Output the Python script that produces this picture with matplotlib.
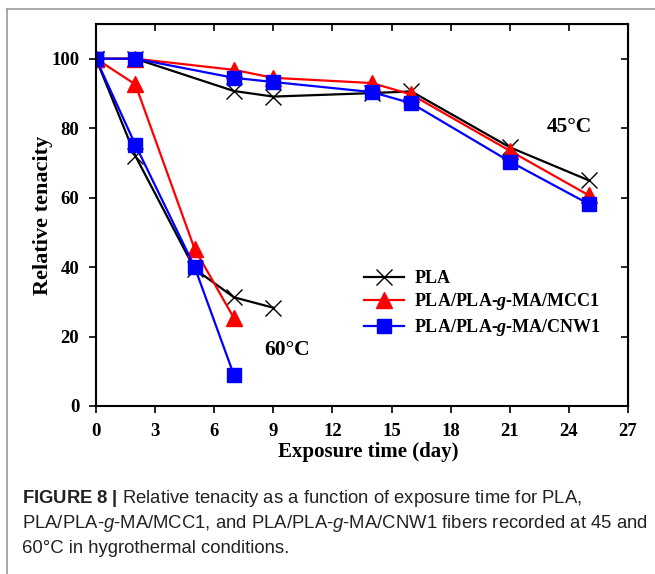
import numpy as np
import matplotlib
matplotlib.use("Agg")
import matplotlib.pyplot as plt
from matplotlib.lines import Line2D

plt.rcParams['font.family'] = ['Liberation Serif', 'DejaVu Serif']
plt.rcParams['font.weight'] = 'bold'
plt.rcParams['mathtext.fontset'] = 'custom'
plt.rcParams['mathtext.it'] = 'Liberation Serif:style=italic:weight=bold'
plt.rcParams['mathtext.sf'] = 'Liberation Sans:style=italic:weight=normal'
plt.rcParams['mathtext.bf'] = 'Liberation Sans:weight=bold'

# 45 degC series
days45 = [0, 2, 7, 9, 14, 16, 21, 25]
pla45 = [100, 100, 90.7, 89.1, 90.1, 90.6, 74.5, 65]
mcc45 = [100, 100, 96.8, 94.5, 93.0, 89.7, 73.5, 60.7]
cnw45 = [100, 100, 94.5, 93.3, 90.4, 87.2, 70.4, 58.2]

# 60 degC series
days60 = [0, 2, 5, 7, 9]
pla60 = [100, 72, 39.5, 31.3, 28.3]
mcc60 = [100, 92.6, 45.3, 25.3]
cnw60 = [100, 75.2, 40.1, 8.9]

labels = ['PLA', 'PLA/PLA-$\\mathit{g}$-MA/MCC1', 'PLA/PLA-$\\mathit{g}$-MA/CNW1']
xticks = np.arange(0, 28, 3)
yticks = np.arange(0, 101, 20)

fig = plt.figure(figsize=(6.55, 5.74), dpi=100)
ax = fig.add_axes([96/655, 1-406/574, (628-96)/655, (406-24)/574])

sty_pla = dict(color='black', marker='x', ms=11, mew=1.0, lw=1.6)
sty_mcc = dict(color='red', marker='^', ms=11.5, lw=1.6)
sty_cnw = dict(color='blue', marker='s', ms=10.5, lw=1.6)

ax.plot(days45, pla45, label=labels[0], **sty_pla)
ax.plot(days45, mcc45, label=labels[1], **sty_mcc)
ax.plot(days45, cnw45, label=labels[2], **sty_cnw)
ax.plot(days60[:len(pla60)], pla60, **sty_pla)
ax.plot(days60[:len(mcc60)], mcc60, **sty_mcc)
ax.plot(days60[:len(cnw60)], cnw60, **sty_cnw)

ax.set_xlim(0, 27)
ax.set_ylim(0, 110)
ax.set_xticks(xticks)
ax.set_yticks(yticks)
ax.tick_params(direction='out', length=5, width=1.2, labelsize=13.5, pad=7)
for s in ax.spines.values():
    s.set_linewidth(1.5)

# inward ticks on top and right
top = ax.secondary_xaxis('top')
top.set_xticks(xticks)
top.tick_params(direction='in', length=5, width=1.2, labeltop=False)
right = ax.secondary_yaxis('right')
right.set_yticks(yticks)
right.tick_params(direction='in', length=5, width=1.2, labelright=False)

ax.set_xlabel('Exposure time (day)', fontsize=15, fontweight='bold')
ax.set_ylabel('Relative tenacity', fontsize=16, fontweight='bold')
ax.xaxis.set_label_coords(0.512, -0.095)
ax.yaxis.set_label_coords(-0.081, 0.5)

ax.text(24.05, 80.2, '45°C', fontsize=15.5, fontweight='bold', ha='center', va='center')
ax.text(9.7, 16.2, '60°C', fontsize=15.5, fontweight='bold', ha='center', va='center')

leg = ax.legend(loc='upper left', bbox_to_anchor=(0.49, 0.375), frameon=False,
                prop=dict(weight='bold', size=13), handlelength=2.2,
                handletextpad=0.6, labelspacing=0.25, borderaxespad=0)

# grey frame of the figure panel
fig.add_artist(Line2D([7/655, 7/655], [0, 1-9/574], color='#999999', lw=1.2))
fig.add_artist(Line2D([7/655, 1], [1-9/574, 1-9/574], color='#999999', lw=1.2))

cap = dict(fontsize=13.3, family='Liberation Sans', fontweight='normal',
           color='#222222', va='baseline')
fig.text(22/655, 1-503/574,
         r'$\mathbf{FIGURE\ 8\ |}$ Relative tenacity as a function of exposure time for PLA,', **cap)
fig.text(22/655, 1-528/574,
         r'PLA/PLA-$\mathsf{g}$-MA/MCC1, and PLA/PLA-$\mathsf{g}$-MA/CNW1 fibers recorded at 45 and', **cap)
fig.text(22/655, 1-553/574, '60°C in hygrothermal conditions.', **cap)

fig.savefig('out.png', dpi=100)
